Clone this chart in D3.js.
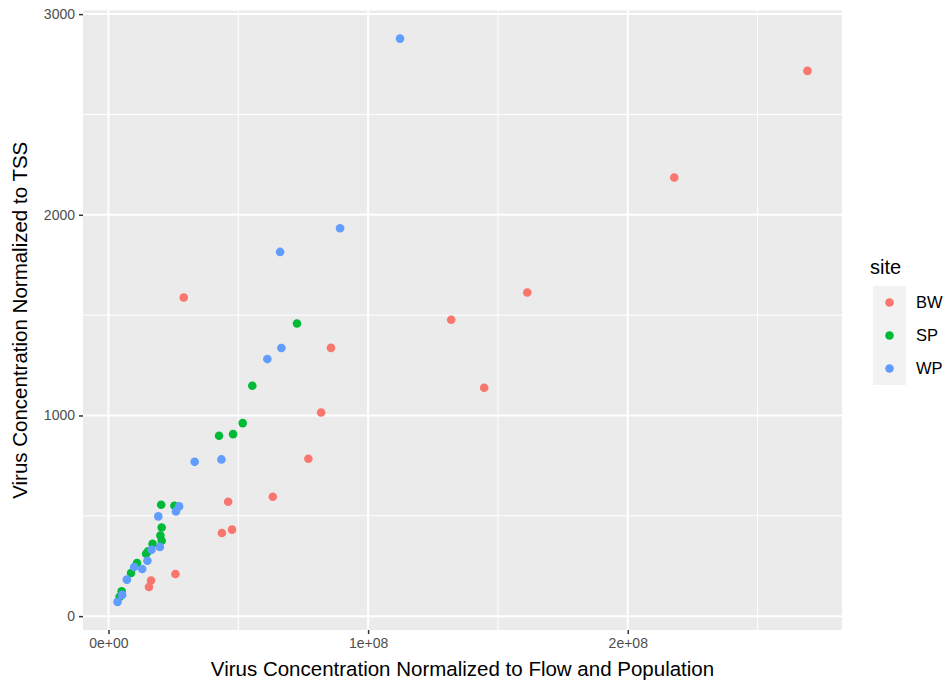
<!DOCTYPE html>
<html><head><meta charset="utf-8">
<script src="https://cdn.jsdelivr.net/npm/d3@7"></script>
<style>body{margin:0;background:#fff}svg{display:block}text{font-family:"Liberation Sans",Arial,sans-serif}</style>
</head><body>
<script>
const sites = ["BW","SP","WP"];
const colors = ["#F8766D","#00BA38","#619CFF"];
// x in units of 1e8
const bwX = [2.692,2.179,1.613,1.320,1.447,0.290,0.857,0.819,0.770,0.633,0.461,0.476,0.437,0.258,0.164,0.156];
const bwY = [2717,2186,1613,1477,1138,1588,1337,1015,784,595,570,431,414,210,178,145];
const spX = [0.726,0.554,0.517,0.426,0.480,0.203,0.254,0.205,0.200,0.205,0.170,0.153,0.145,0.110,0.087,0.051,0.043];
const spY = [1458,1148,962,899,907,555,550,442,402,376,360,323,311,265,215,124,96];
const wpX = [1.123,0.892,0.661,0.666,0.612,0.435,0.332,0.272,0.260,0.192,0.198,0.166,0.150,0.130,0.099,0.071,0.053,0.035];
const wpY = [2878,1933,1815,1336,1281,781,769,547,522,497,345,331,276,235,245,182,106,71];
const xTicks = [0,1e8,2e8];
const xTickLabels = ["0e+00","1e+08","2e+08"];
const xMinor = [0.5e8,1.5e8,2.5e8];
const yTicks = [0,1000,2000,3000];
const yTickLabels = ["0","1000","2000","3000"];
const yMinor = [500,1500,2500];

const W=946,H=684;
const svg=d3.select("body").append("svg").attr("width",W).attr("height",H);
const pL=83,pR=842,pT=10.5,pB=630;
const x=d3.scaleLinear().domain([-0.098e8,2.825e8]).range([pL,pR]);
const y=d3.scaleLinear().domain([-69,3018]).range([pB,pT]);

svg.append("rect").attr("x",pL).attr("y",pT).attr("width",pR-pL).attr("height",pB-pT).attr("fill","#EBEBEB");
const g=svg.append("g");
g.selectAll(".xm").data(xMinor).join("line").attr("x1",d=>x(d)).attr("x2",d=>x(d)).attr("y1",pT).attr("y2",pB).attr("stroke","#fff").attr("stroke-width",1);
g.selectAll(".ym").data(yMinor).join("line").attr("y1",d=>y(d)).attr("y2",d=>y(d)).attr("x1",pL).attr("x2",pR).attr("stroke","#fff").attr("stroke-width",1);
g.selectAll(".xM").data(xTicks).join("line").attr("x1",d=>x(d)).attr("x2",d=>x(d)).attr("y1",pT).attr("y2",pB).attr("stroke","#fff").attr("stroke-width",2);
g.selectAll(".yM").data(yTicks).join("line").attr("y1",d=>y(d)).attr("y2",d=>y(d)).attr("x1",pL).attr("x2",pR).attr("stroke","#fff").attr("stroke-width",2);

// axes
const xa=d3.axisBottom(x).tickValues(xTicks).tickFormat((d,i)=>xTickLabels[i]).tickSize(4).tickPadding(4);
const ax=svg.append("g").attr("transform",`translate(0,${pB})`).call(xa);
ax.select(".domain").remove();
ax.selectAll("line").attr("stroke","#333").attr("stroke-width",1.5);
ax.selectAll("text").attr("fill","#4D4D4D").style("font-size","14px");
const ya=d3.axisLeft(y).tickValues(yTicks).tickFormat((d,i)=>yTickLabels[i]).tickSize(4).tickPadding(4);
const ay=svg.append("g").attr("transform",`translate(${pL},0)`).call(ya);
ay.select(".domain").remove();
ay.selectAll("line").attr("stroke","#333").attr("stroke-width",1.5);
ay.selectAll("text").attr("fill","#4D4D4D").style("font-size","14px");

// points
const series=[[bwX,bwY],[spX,spY],[wpX,wpY]];
series.forEach((s,k)=>{
  const pts=s[0].map((v,i)=>[v*1e8,s[1][i]]);
  svg.append("g").selectAll("circle").data(pts).join("circle")
    .attr("cx",d=>x(d[0])).attr("cy",d=>y(d[1])).attr("r",4.3).attr("fill",colors[k]);
});

// titles
svg.append("text").attr("x",(pL+pR)/2).attr("y",676).attr("text-anchor","middle").style("font-size","20.5px").attr("fill","#000").text("Virus Concentration Normalized to Flow and Population");
svg.append("text").attr("transform",`translate(27,${(pT+pB)/2}) rotate(-90)`).attr("text-anchor","middle").style("font-size","20.5px").attr("fill","#000").text("Virus Concentration Normalized to TSS");

// legend
const lg=svg.append("g");
lg.append("text").attr("x",870).attr("y",274).style("font-size","20px").attr("fill","#000").text("site");
lg.append("rect").attr("x",873).attr("y",286).attr("width",33).attr("height",99).attr("fill","#F2F2F2");
sites.forEach((s,i)=>{
  lg.append("circle").attr("cx",889.5).attr("cy",302.5+i*33).attr("r",4.3).attr("fill",colors[i]);
  lg.append("text").attr("x",916).attr("y",302.5+i*33).attr("dy","0.35em").style("font-size","16.5px").attr("fill","#000").text(s);
});
</script>
</body></html>
